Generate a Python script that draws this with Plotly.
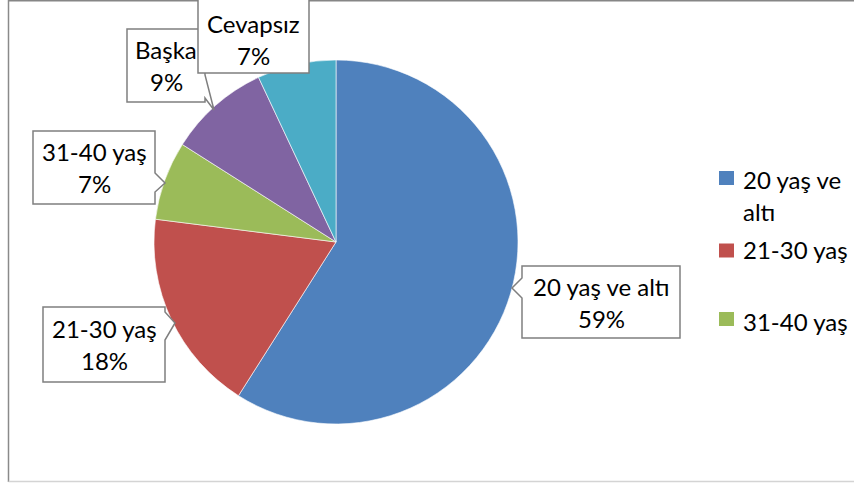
import plotly.graph_objects as go

# ---- data ----
labels = ["20 yaş ve altı", "21-30 yaş", "31-40 yaş", "Başka", "Cevapsız"]
values = [59, 18, 7, 9, 7]
colors = ["#4F81BD", "#C0504D", "#9BBB59", "#8064A2", "#4BACC6"]
legend_count = 3  # legend in the reference is cut off after three entries
legend_lines = [["20 yaş ve", "altı"], ["21-30 yaş"], ["31-40 yaş"]]

W, H = 854, 483
FONT = "Lato, sans-serif"
FS = 24


def X(px):
    return px / W


def Y(py):
    return 1 - py / H


fig = go.Figure()
fig.add_trace(go.Pie(
    labels=labels, values=values, sort=False, direction="clockwise", rotation=0,
    marker=dict(colors=colors, line=dict(color="#FFFFFF", width=0.6)),
    textinfo="none", hoverinfo="label+percent", showlegend=False,
    domain=dict(x=[X(154), X(518)], y=[Y(424), Y(60)]),
))

shapes = []
annotations = []

# chart border
shapes.append(dict(type="line", xref="paper", yref="paper", x0=X(8.5), x1=X(860), y0=Y(0.8), y1=Y(0.8),
                   line=dict(color="#868686", width=1.5)))
shapes.append(dict(type="line", xref="paper", yref="paper", x0=X(8.5), x1=X(8.5), y0=Y(0), y1=Y(482),
                   line=dict(color="#8a8a8a", width=1.5)))
shapes.append(dict(type="line", xref="paper", yref="paper", x0=X(8.5), x1=X(860), y0=Y(481.5), y1=Y(481.5),
                   line=dict(color="#d4d4d4", width=1.5)))

# callout boxes: (label index, left, top, right, bottom, notch side, notch points)
callouts = [
    (0, 522, 266, 680, 338, "left", [(522, 278), (512, 288), (522, 298)]),
    (1, 43, 307, 165, 382, "right", [(165, 312), (175, 323), (165, 340)]),
    (2, 33, 131, 155, 204, "right", [(155, 173), (165, 183), (155, 192)]),
    (3, 127, 29, 205, 102, "right", [(205, 75), (214, 110), (205, 98)]),
    (4, 198, -2, 309, 73, None, []),
]


def box_path(l, t, r, b, side, notch):
    pts = [(l, t), (r, t)]
    if side == "right":
        pts += notch
    pts += [(r, b), (l, b)]
    if side == "left":
        pts += list(reversed(notch))
    return "M " + " L ".join(f"{X(x):.5f},{Y(y):.5f}" for x, y in pts) + " Z"


total = sum(values)
for idx, l, t, r, b, side, notch in callouts:
    shapes.append(dict(type="path", xref="paper", yref="paper", path=box_path(l, t, r, b, side, notch),
                       fillcolor="#FFFFFF", line=dict(color="#7F7F7F", width=1.5), layer="above"))
    cx = (l + r) / 2
    cy = (max(t, 6) + b) / 2 if t < 0 else (t + b) / 2
    pct = f"{round(values[idx] / total * 100)}%"
    for txt, dy in ((labels[idx], -16), (pct, 16)):
        annotations.append(dict(xref="paper", yref="paper", x=X(cx), y=Y(cy + dy), text=txt,
                                showarrow=False, xanchor="center", yanchor="middle",
                                font=dict(family=FONT, size=FS, color="#000000")))

# manual legend (truncated in the reference)
leg_sq_y = [178, 250.5, 319]
leg_txt_y = [[179, 211], [249], [321]]
for i in range(legend_count):
    cyy = leg_sq_y[i]
    shapes.append(dict(type="rect", xref="paper", yref="paper", x0=X(719), x1=X(734), y0=Y(cyy - 7), y1=Y(cyy + 7),
                       fillcolor=colors[i], line=dict(width=0)))
    for line_txt, ty in zip(legend_lines[i], leg_txt_y[i]):
        annotations.append(dict(xref="paper", yref="paper", x=X(741), y=Y(ty), text=line_txt,
                                showarrow=False, xanchor="left", yanchor="middle",
                                font=dict(family=FONT, size=FS, color="#000000")))

fig.update_layout(
    width=W, height=H, margin=dict(l=0, r=0, t=0, b=0),
    paper_bgcolor="#FFFFFF", plot_bgcolor="#FFFFFF",
    shapes=shapes, annotations=annotations, showlegend=False,
    font=dict(family=FONT),
)

fig.write_html(
    "out.html",
    config={"displayModeBar": False},
    post_script="document.body.style.margin='0';document.body.style.overflow='hidden';",
)
